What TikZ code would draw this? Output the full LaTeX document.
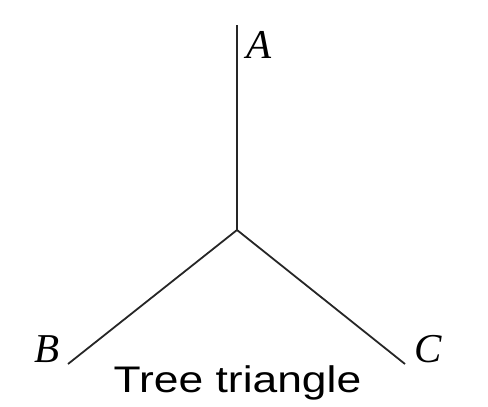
\documentclass[tikz,border=0pt]{standalone}
\usepackage{fontspec}
\setmainfont{Liberation Serif}
\newfontfamily\capfont[FakeStretch=1.2]{Liberation Sans}
\begin{document}
\begin{tikzpicture}[x=1pt,y=-1pt,
  branch/.style={line width=1.8pt,draw=black!85},
  vlabel/.style={font=\fontsize{41}{41}\selectfont\itshape,inner sep=0pt,anchor=base}]
\useasboundingbox (0,0) rectangle (488,407);
\coordinate (top) at (237,25);
\coordinate (mid) at (237,230);
\coordinate (b) at (68,364);
\coordinate (c) at (405,364);
\draw[branch] (top) -- (mid);
\draw[branch] (mid) -- (b);
\draw[branch] (mid) -- (c);
\node[vlabel] (A) at (259,58) {A};
\node[vlabel] (B) at (47,362) {B};
\node[vlabel] (C) at (428,362) {C};
\node[inner sep=0pt,anchor=base,font=\capfont\fontsize{37}{37}\selectfont] (T) at (237.5,392) {Tree triangle};
\end{tikzpicture}
\end{document}
